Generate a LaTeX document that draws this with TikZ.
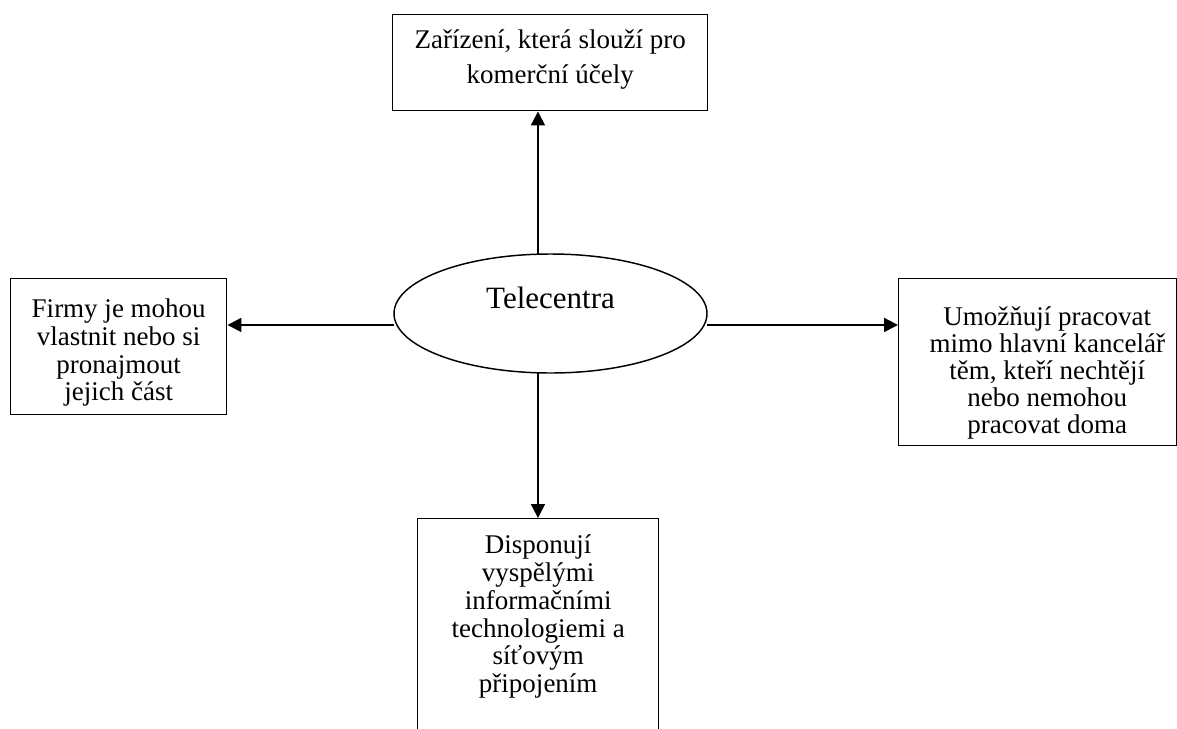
\documentclass[tikz,border=0pt]{standalone}
\usepackage{fontspec}
\setmainfont{Liberation Serif}
\usetikzlibrary{shapes.geometric,arrows.meta}

% Fixed-size paragraph box: width, height, first-baseline drop, baselineskip, text
\newcommand{\boxpar}[5]{%
  \parbox[c][#2][t]{#1}{\fontsize{20.25pt}{#4}\selectfont\centering\rule{0pt}{#3}#5}}

\tikzset{
  box/.style={draw, line width=1.1pt, inner sep=0pt, rectangle},
  txt/.style={inner sep=0pt, rectangle},
  hub/.style={draw, ellipse, line width=1.1pt, inner sep=0pt, outer sep=0pt,
    minimum width=234.75pt, minimum height=89.25pt,
    text height=16pt, text depth=24.25pt,
    font=\fontsize{23.25pt}{28pt}\selectfont},
  conn/.style={line width=1.5pt, -{Triangle[length=10.5pt, width=10.5pt]}}
}

\begin{document}
\begin{tikzpicture}[x=0.75pt, y=-0.75pt]
  \path[fill=white, use as bounding box] (0,0) rectangle (1177,728);

  % centre
  \node[hub] (ell) at (550.5,313.5) {Telecentra};

  % surrounding boxes
  \node[box, anchor=north west] (tbox) at (392,14)
    {\boxpar{236.25pt}{72pt}{25.5pt}{26.25pt}{Zařízení, která slouží pro\\ komerční účely}};

  \node[box, anchor=north west] (lbox) at (10,278)
    {\boxpar{162pt}{102pt}{29.25pt}{20.8pt}{Firmy je mohou\\ vlastnit nebo si\\ pronajmout\\ jejich část}};

  \node[box, anchor=north west, minimum width=208.5pt, minimum height=125.25pt] (rbox) at (898,278) {};
  \begin{scope}
    \clip (rbox.north west) rectangle ([yshift=6pt]rbox.south east);
    \node[txt, anchor=north west] (rtext) at (rbox.north west)
      {\boxpar{208.5pt}{125.25pt}{35.25pt}{20.25pt}{\leftskip=15pt plus 1fil
        Umožňují pracovat\\ mimo hlavní kancelář\\ těm, kteří nechtějí\\ nebo nemohou\\ pracovat doma}};
  \end{scope}

  \node[box, anchor=north west] (bbox) at (417,518)
    {\boxpar{180.75pt}{187.5pt}{26.25pt}{20.85pt}{Disponují\\ vyspělými\\ informačními\\ technologiemi a\\ síťovým\\ připojením}};

  % connectors
  \draw[conn] ([xshift=-9.4pt]ell.north) -- ([xshift=-9.4pt]ell.north |- tbox.south);
  \draw[conn] ([xshift=-9.4pt]ell.south) -- ([xshift=-9.4pt]ell.south |- bbox.north);
  \draw[conn] ([yshift=-8.6pt]ell.west) -- ([yshift=-8.6pt]ell.west -| lbox.east);
  \draw[conn] ([yshift=-8.6pt]ell.east) -- ([yshift=-8.6pt]ell.east -| rbox.west);
\end{tikzpicture}
\end{document}
